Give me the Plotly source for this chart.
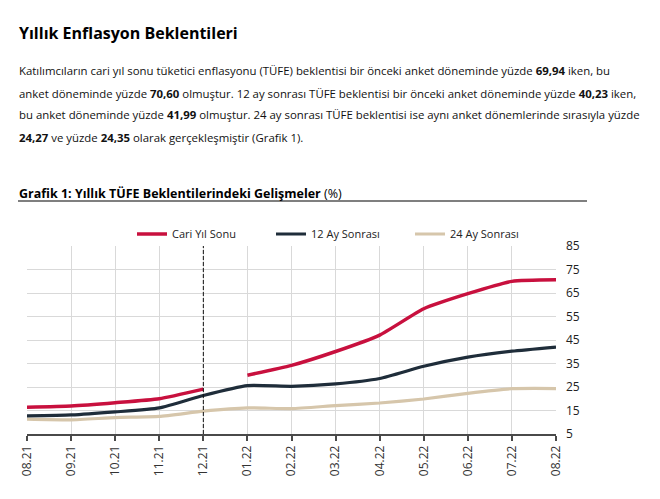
import plotly.graph_objects as go

# ---------------- data ----------------
months = ["08.21", "09.21", "10.21", "11.21", "12.21", "01.22", "02.22",
          "03.22", "04.22", "05.22", "06.22", "07.22", "08.22"]
cari_yil_2021 = [16.4, 16.9, 18.3, 20.0, 24.1]                       # 08.21-12.21
cari_yil_2022 = [30.0, 34.2, 40.1, 47.1, 58.3, 64.7, 69.94, 70.60]   # 01.22-08.22
ay12_sonrasi = [12.7, 13.1, 14.4, 16.1, 21.4, 25.6, 25.3, 26.3, 28.6, 33.8, 37.7, 40.23, 41.99]
ay24_sonrasi = [11.3, 11.0, 12.0, 12.5, 14.7, 16.1, 15.8, 17.1, 18.2, 19.9, 22.3, 24.27, 24.35]
y_ticks = [5, 15, 25, 35, 45, 55, 65, 75, 85]
dashed_month = "12.21"

series_names = ["Cari Yıl Sonu", "12 Ay Sonrası", "24 Ay Sonrası"]

# ---------------- layout geometry ----------------
W, H = 660, 499
L, R, T, B = 27, 556, 246, 434  # plot area in pixels


def px(x):
    return (x - L) / (R - L)


def py(y):
    return (B - y) / (B - T)


RED = "#c8103e"
DARK = "#1f2d3a"
BEIGE = "#d6c6ab"

x_idx = list(range(len(months)))

fig = go.Figure()
fig.add_trace(go.Scatter(x=x_idx[:5], y=cari_yil_2021, mode="lines", name=series_names[0],
                         line=dict(color=RED, width=3.5, shape="spline", smoothing=0.5),
                         legendgroup="c", legendrank=1))
fig.add_trace(go.Scatter(x=x_idx[5:], y=cari_yil_2022, mode="lines", name=series_names[0],
                         line=dict(color=RED, width=3.5, shape="spline", smoothing=0.5),
                         legendgroup="c", showlegend=False))
fig.add_trace(go.Scatter(x=x_idx, y=ay24_sonrasi, mode="lines", name=series_names[2],
                         line=dict(color=BEIGE, width=3.2, shape="spline", smoothing=0.5),
                         legendrank=3))
fig.add_trace(go.Scatter(x=x_idx, y=ay12_sonrasi, mode="lines", name=series_names[1],
                         line=dict(color=DARK, width=3.2, shape="spline", smoothing=0.5),
                         legendrank=2))

fig.update_layout(
    width=W, height=H,
    margin=dict(l=L, r=W - R, t=T, b=H - B, pad=0),
    paper_bgcolor="white", plot_bgcolor="white",
    font=dict(family="Open Sans, sans-serif", color="#222", size=11),
    showlegend=True,
    legend=dict(orientation="h", x=px(132), y=py(234), xanchor="left", yanchor="middle",
                traceorder="normal", entrywidth=94, itemwidth=30,
                font=dict(size=11, color="#222"), bgcolor="rgba(0,0,0,0)"),
    xaxis=dict(range=[0, len(months) - 1], tickmode="array", tickvals=x_idx, ticktext=months,
               tickangle=-90, showgrid=True, gridcolor="#d9d9d9", gridwidth=1,
               showline=True, linecolor="#4a4a4a", linewidth=1.5,
               ticks="outside", ticklen=5, tickcolor="#4a4a4a", tickwidth=1.5,
               tickfont=dict(size=12, color="#333"), zeroline=False, fixedrange=True),
    yaxis=dict(range=[5, 85], side="right", tickmode="array", tickvals=y_ticks,
               showgrid=True, gridcolor="#d9d9d9", gridwidth=1, zeroline=False,
               showline=False, ticks="", ticklabelstandoff=9,
               tickfont=dict(size=12, color="#222"), fixedrange=True),
)

# dashed vertical line at 12.21
fig.add_shape(type="line", xref="x", yref="paper",
              x0=months.index(dashed_month), x1=months.index(dashed_month), y0=0, y1=1,
              line=dict(color="#111", width=1, dash="4px,2px"))

# ---------------- document texts ----------------
annos = []
annos.append(dict(text="<b>Yıllık Enflasyon Beklentileri</b>", x=px(17), y=py(33),
                  font=dict(size=16, color="#000")))
para = [
    "Katılımcıların cari yıl sonu tüketici enflasyonu (TÜFE) beklentisi bir önceki anket döneminde yüzde <b>69,94</b> iken, bu",
    "anket döneminde yüzde <b>70,60</b> olmuştur. 12 ay sonrası TÜFE beklentisi bir önceki anket döneminde yüzde <b>40,23</b> iken,",
    "bu anket döneminde yüzde <b>41,99</b> olmuştur. 24 ay sonrası TÜFE beklentisi ise aynı anket dönemlerinde sırasıyla yüzde",
    "<b>24,27</b> ve yüzde <b>24,35</b> olarak gerçekleşmiştir (Grafik 1).",
]
for i, line in enumerate(para):
    annos.append(dict(text=line, x=px(17), y=py(71 + 22 * i), font=dict(size=11.4, color="#111")))
annos.append(dict(text="<b>Grafik 1: Yıllık TÜFE Beklentilerindeki Gelişmeler</b> (%)",
                  x=px(17), y=py(193), font=dict(size=12.5, color="#000")))
for a in annos:
    a.update(xref="paper", yref="paper", xanchor="left", yanchor="middle", showarrow=False)
fig.update_layout(annotations=annos)

fig.add_shape(type="line", xref="paper", yref="paper", x0=px(18), x1=px(587), y0=py(201), y1=py(201),
              line=dict(color="#000", width=1.2))

fig.write_html("out.html")
